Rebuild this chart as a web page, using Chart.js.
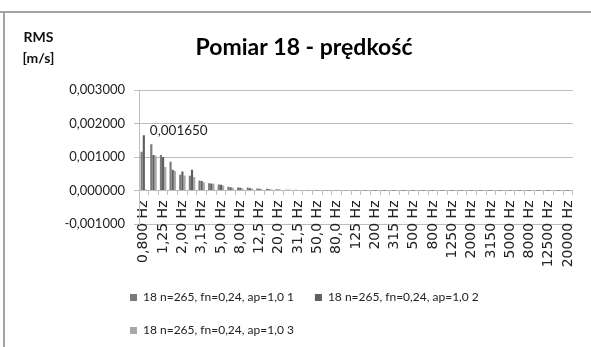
<!DOCTYPE html>
<html>
<head>
<meta charset="utf-8">
<script src="https://cdn.jsdelivr.net/npm/chart.js@4"></script>
<style>
  html, body { margin: 0; padding: 0; background: #fff; }
  #wrap { width: 591px; height: 347px; }
</style>
</head>
<body>
<div id="wrap"><canvas id="rmsChart" width="591" height="347"></canvas></div>
<script>
// Third-octave band centres
const bands = ['0,800 Hz', '1,00 Hz', '1,25 Hz', '1,60 Hz', '2,00 Hz', '2,50 Hz', '3,15 Hz', '4,00 Hz',
  '5,00 Hz', '6,30 Hz', '8,00 Hz', '10,0 Hz', '12,5 Hz', '16,0 Hz', '20,0 Hz', '25,0 Hz', '31,5 Hz',
  '40,0 Hz', '50,0 Hz', '63,0 Hz', '80,0 Hz', '100 Hz', '125 Hz', '160 Hz', '200 Hz', '250 Hz',
  '315 Hz', '400 Hz', '500 Hz', '630 Hz', '800 Hz', '1000 Hz', '1250 Hz', '1600 Hz', '2000 Hz',
  '2500 Hz', '3150 Hz', '4000 Hz', '5000 Hz', '6300 Hz', '8000 Hz', '10000 Hz', '12500 Hz',
  '16000 Hz', '20000 Hz'];

// RMS velocity [m/s] for the three runs
const run1 = [0.001160, 0.001380, 0.001060, 0.000860, 0.000470, 0.000440, 0.000300, 0.000220,
  0.000180, 0.000110, 0.000090, 0.000090, 0.000060, 0.000050, 0.000035, 0.000025, 0.000020,
  0.000015, 0.000010, 0.000008, 0.000006, 0.000005, 0.000004, 0.000004, 0.000003, 0.000003,
  0.000002, 0.000002, 0.000002, 0.000002, 0.000001, 0.000001, 0.000001, 0.000001, 0.000001,
  0.000001, 0.000001, 0.000001, 0.000001, 0.000001, 0.000001, 0.000001, 0.000001, 0.000001, 0.000001];
const run2 = [0.001650, 0.001060, 0.001000, 0.000620, 0.000570, 0.000620, 0.000280, 0.000210,
  0.000170, 0.000100, 0.000080, 0.000070, 0.000050, 0.000040, 0.000030, 0.000020, 0.000015,
  0.000010, 0.000008, 0.000006, 0.000005, 0.000004, 0.000004, 0.000003, 0.000003, 0.000002,
  0.000002, 0.000002, 0.000002, 0.000001, 0.000001, 0.000001, 0.000001, 0.000001, 0.000001,
  0.000001, 0.000001, 0.000001, 0.000001, 0.000001, 0.000001, 0.000001, 0.000001, 0.000001, 0.000001];
const run3 = [0.000030, 0.001040, 0.000700, 0.000580, 0.000450, 0.000400, 0.000250, 0.000200,
  0.000150, 0.000080, 0.000070, 0.000060, 0.000040, 0.000030, 0.000025, 0.000020, 0.000010,
  0.000010, 0.000006, 0.000005, 0.000004, 0.000004, 0.000003, 0.000003, 0.000002, 0.000002,
  0.000002, 0.000002, 0.000001, 0.000001, 0.000001, 0.000001, 0.000001, 0.000001, 0.000001,
  0.000001, 0.000001, 0.000001, 0.000001, 0.000001, 0.000001, 0.000001, 0.000001, 0.000001, 0.000001];

const seriesNames = ['18 n=265, fn=0,24, ap=1,0 1', '18 n=265, fn=0,24, ap=1,0 2', '18 n=265, fn=0,24, ap=1,0 3'];
const unitLines = ['RMS', '[m/s]'];
const chartTitle = 'Pomiar 18 - prędkość';

// Value axis limits
const yMin = -0.001;
const yMax = 0.003;
const yStep = 0.001;

const gridColor = '#bdbdbd';
const textColor = '#222';

// Polish number format with six decimals
function fmt(v) {
  return v.toFixed(6).replace('.', ',');
}

// Frame lines, unit caption, legend placement and the peak value label
const extras = {
  id: 'extras',
  beforeDraw(chart) {
    const ctx = chart.ctx;
    ctx.save();
    ctx.fillStyle = '#fff';
    ctx.fillRect(0, 0, chart.width, chart.height);
    ctx.fillStyle = '#a3a3a3';
    ctx.fillRect(0, 11, chart.width, 2);
    ctx.fillRect(3, 11, 2, chart.height - 11);

    ctx.fillStyle = '#111';
    ctx.font = 'bold 14px Lato';
    ctx.textAlign = 'center';
    ctx.textBaseline = 'alphabetic';
    ctx.fillText(unitLines[0], 38.5, 42);
    ctx.fillText(unitLines[1], 38.5, 63);
    ctx.restore();

    // legend block sits left-aligned under the plot, two rows
    const lg = chart.legend;
    if (lg) {
      const w = lg.width;
      lg.left = 109;
      lg.right = 109 + w;
      lg.top = 270.5;
      lg.bottom = chart.height;
    }
  },
  afterDatasetsDraw(chart) {
    const bar = chart.getDatasetMeta(1).data[0];
    const ctx = chart.ctx;
    ctx.save();
    ctx.fillStyle = textColor;
    ctx.font = '13.5px Lato';
    ctx.textAlign = 'left';
    ctx.textBaseline = 'alphabetic';
    ctx.fillText(fmt(run2[0]), bar.x + 6, bar.y);
    ctx.restore();
  }
};

const ctx = document.getElementById('rmsChart').getContext('2d');

const rmsChart = new Chart(ctx, {
  type: 'bar',
  data: {
    labels: bands,
    datasets: [
      { label: seriesNames[0], data: run1, backgroundColor: '#7a7a7a' },
      { label: seriesNames[1], data: run2, backgroundColor: '#5f5f5f' },
      { label: seriesNames[2], data: run3, backgroundColor: '#a8a8a8' }
    ]
  },
  options: {
    responsive: false,
    animation: false,
    layout: { padding: { left: 20, right: 3, top: 0, bottom: 47 } },
    datasets: {
      bar: { categoryPercentage: 0.67, barPercentage: 1.0, borderWidth: 0 }
    },
    plugins: {
      title: {
        display: true,
        text: chartTitle,
        color: '#000',
        font: { family: 'Lato', size: 23, weight: 'bold' },
        padding: { top: 34, bottom: 28.4 }
      },
      legend: {
        display: true,
        position: 'bottom',
        align: 'start',
        fullSize: false,
        labels: {
          boxWidth: 7,
          boxHeight: 7,
          padding: 21,
          color: textColor,
          font: { family: 'Lato', size: 12 }
        }
      },
      tooltip: { enabled: false }
    },
    scales: {
      x: {
        position: { y: 0 },
        grid: {
          display: true,
          drawOnChartArea: false,
          drawTicks: true,
          tickLength: 4,
          color: gridColor
        },
        border: { display: true, color: gridColor },
        ticks: {
          autoSkip: false,
          minRotation: 90,
          maxRotation: 90,
          padding: 6,
          color: textColor,
          font: { family: 'DejaVu Sans', size: 14 },
          callback: function(value, index) {
            return index % 2 === 0 ? this.getLabelForValue(value) : '';
          }
        }
      },
      y: {
        min: yMin,
        max: yMax,
        afterFit: (scale) => { scale.width = 119; },
        grid: { color: gridColor, tickLength: 5, drawTicks: true },
        border: { display: true, color: gridColor },
        ticks: {
          stepSize: yStep,
          padding: 9,
          color: textColor,
          font: { family: 'Lato', size: 13 },
          callback: (value) => fmt(value)
        }
      }
    }
  },
  plugins: [extras]
});
</script>
</body>
</html>
